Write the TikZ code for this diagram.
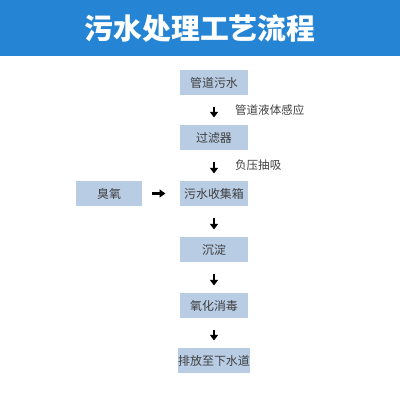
\documentclass[tikz,border=0pt]{standalone}
\usepackage{fontspec}
\setmainfont{Noto Sans CJK SC}
\usepackage{xcolor}
\usetikzlibrary{arrows.meta,positioning}
\definecolor{barblue}{HTML}{2585D4}
\definecolor{boxblue}{HTML}{B8CCE4}
\definecolor{txtgray}{HTML}{3F3F3F}

\begin{document}
\begin{tikzpicture}[x=0.025cm, y=-0.025cm]
  \tikzstyle{stage}=[rectangle, fill=boxblue, text=txtgray, minimum width=1.7cm, minimum height=0.625cm, inner sep=0pt, font=\fontsize{8.5}{10}\selectfont]
  \tikzstyle{flow}=[-{Triangle[width=5.6pt,length=4pt]}, line width=2.1pt, black, shorten <=3mm, shorten >=1.8mm]
  \tikzstyle{note}=[anchor=west, text=txtgray, xshift=3.75mm, font=\fontsize{8.2}{10}\selectfont]

  \useasboundingbox (0,0) rectangle (400,400);

  % Titelbalken
  \fill[barblue] (0,0) rectangle (400,56);
  \node[text=white, font=\fontsize{20.5}{24}\selectfont\bfseries] (title) at (200,28.5) {污水处理工艺流程};

  % Stufen
  \node[stage] (pipe) at (214,82.5) {管道污水};
  \node[stage] (filter) at (214,137.5) {过滤器};
  \node[stage] (tank) at (214,193.5) {污水收集箱};
  \node[stage] (settle) at (214,249.5) {沉淀};
  \node[stage] (oxid) at (214,305.5) {氧化消毒};
  \node[stage] (drain) at (214,360.5) {排放至下水道};
  \node[stage, minimum width=1.65cm] (ozone) at (109,193.5) {臭氧};

  % Pfeile
  \draw[flow] (pipe) -- node[note] {管道液体感应} (filter);
  \draw[flow] (filter) -- node[note] {负压抽吸} (tank);
  \draw[flow] (tank) -- (settle);
  \draw[flow] (settle) -- (oxid);
  \draw[flow] (oxid) -- (drain);
  \draw[flow, shorten <=2.5mm, shorten >=3.6mm] (ozone) -- (tank);
\end{tikzpicture}
\end{document}
